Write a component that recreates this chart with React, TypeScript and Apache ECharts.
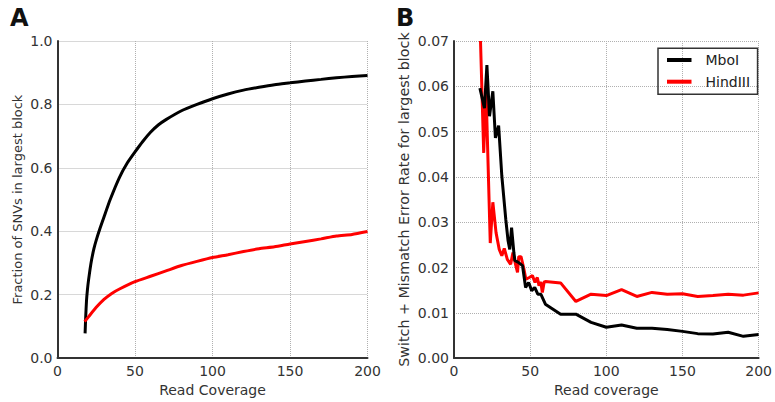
import React, { useEffect, useRef } from "react";
import * as echarts from "echarts";

// Panel A: fraction of SNVs in largest block
const coverageA_MboI = [17.8, 18.2, 18.7, 19.3, 20, 21, 22, 23.5, 25, 27.5, 30, 34, 40, 45, 50, 55, 60, 65, 70, 80, 90, 100, 110, 120, 130, 140, 150, 160, 170, 180, 190, 200];
const fractionMboI = [0.078, 0.13, 0.18, 0.215, 0.245, 0.28, 0.31, 0.345, 0.372, 0.41, 0.445, 0.5, 0.57, 0.615, 0.65, 0.683, 0.712, 0.735, 0.752, 0.78, 0.8, 0.818, 0.833, 0.845, 0.854, 0.862, 0.868, 0.874, 0.879, 0.884, 0.888, 0.891];
const coverageA_HindIII = [17.5, 20, 25, 30, 35, 40, 50, 60, 70, 80, 90, 100, 110, 120, 130, 140, 150, 160, 170, 180, 190, 200];
const fractionHindIII = [0.115, 0.13, 0.16, 0.185, 0.204, 0.218, 0.241, 0.258, 0.275, 0.292, 0.305, 0.317, 0.326, 0.336, 0.345, 0.351, 0.36, 0.368, 0.376, 0.385, 0.39, 0.399];

// Panel B: switch + mismatch error rate
const coverageB_MboI = [17, 20, 21.6, 23.3, 25.5, 27.2, 29.3, 31.4, 34, 35.5, 36.6, 37.8, 39.3, 40, 42, 45, 47, 49, 51, 53, 55, 57, 60, 65, 70, 80, 90, 100, 110, 120, 130, 140, 150, 160, 170, 180, 190, 200];
const errorMboI = [0.0596, 0.0552, 0.0647, 0.0534, 0.0589, 0.0486, 0.0513, 0.0402, 0.0306, 0.0259, 0.024, 0.0288, 0.0233, 0.0215, 0.0212, 0.0204, 0.0156, 0.0167, 0.0149, 0.0156, 0.0141, 0.0141, 0.0119, 0.0108, 0.0097, 0.0097, 0.0079, 0.0068, 0.0073, 0.0066, 0.0066, 0.0063, 0.0059, 0.0054, 0.0053, 0.0057, 0.0048, 0.0052];
const coverageB_HindIII = [17.4, 19.5, 21, 23.8, 25.5, 27.6, 29.7, 31.4, 33, 35, 37.2, 38.7, 40.4, 41.7, 42.5, 44, 45.7, 47.2, 49.4, 51.5, 53.2, 54.7, 55.8, 57, 58, 59.2, 60, 70, 80, 90, 100, 110, 120, 130, 140, 150, 160, 170, 180, 190, 200];
const errorHindIII = [0.07, 0.0453, 0.0596, 0.0254, 0.0344, 0.0277, 0.024, 0.0226, 0.0242, 0.0218, 0.0207, 0.0233, 0.0207, 0.0189, 0.0224, 0.0224, 0.02, 0.0174, 0.0178, 0.0182, 0.0167, 0.0178, 0.016, 0.0168, 0.0145, 0.0168, 0.0169, 0.0166, 0.0125, 0.0141, 0.0138, 0.0151, 0.0136, 0.0145, 0.0141, 0.0142, 0.0136, 0.0138, 0.0141, 0.0139, 0.0144];

const xTicks = [0, 50, 100, 150, 200];

const FONT = "DejaVu Sans";

function pairs(xs: number[], ys: number[]) {
  return xs.map((x, i) => [x, ys[i]]);
}

export default function App() {
  const ref = useRef<HTMLDivElement>(null);
  useEffect(() => {
    if (!ref.current) return;
    const chart = echarts.init(ref.current, undefined, { renderer: "svg" });
    const axisLine = { show: true, lineStyle: { color: "#333", width: 2 } };
    const splitLine = { show: true, lineStyle: { color: "#b0b0b0", type: "dotted" as const, width: 1 } };
    const labelStyle = { color: "#333", fontSize: 14, fontFamily: FONT };
    const xAxisBase = (gridIndex: number, name: string) => ({
      type: "value" as const,
      gridIndex,
      min: xTicks[0],
      max: xTicks[xTicks.length - 1],
      interval: 50,
      axisLine,
      axisTick: { show: false },
      splitLine,
      axisLabel: { ...labelStyle, margin: 6 },
      name,
      nameLocation: "middle" as const,
      nameGap: 24,
      nameTextStyle: { color: "#333", fontSize: 14, fontFamily: FONT },
    });
    chart.setOption({
      animation: false,
      backgroundColor: "#fff",
      grid: [
        { left: 57.5, top: 41, width: 310, height: 318.3 },
        { left: 454, top: 41, width: 310, height: 318.3 },
      ],
      xAxis: [xAxisBase(0, "Read Coverage"), xAxisBase(1, "Read coverage")],
      yAxis: [
        {
          type: "value",
          gridIndex: 0,
          min: 0,
          max: 1,
          interval: 0.2,
          axisLine,
          axisTick: { show: false },
          splitLine,
          axisLabel: { ...labelStyle, margin: 5, formatter: (v: number) => v.toFixed(1) },
          name: "Fraction of SNVs in largest block",
          nameLocation: "middle",
          nameGap: 34,
          nameTextStyle: { color: "#333", fontSize: 13, fontFamily: FONT },
        },
        {
          type: "value",
          gridIndex: 1,
          min: 0,
          max: 0.07,
          interval: 0.01,
          axisLine,
          axisTick: { show: false },
          splitLine,
          axisLabel: { ...labelStyle, margin: 5, formatter: (v: number) => v.toFixed(2) },
          name: "Switch + Mismatch Error Rate for largest block",
          nameLocation: "middle",
          nameGap: 43,
          nameTextStyle: { color: "#333", fontSize: 14.3, fontFamily: FONT },
        },
      ],
      legend: {
        data: ["MboI", "HindIII"],
        orient: "vertical",
        left: 658,
        top: 48.3,
        icon: "rect",
        padding: [4.7, 7.5, 5.6, 9],
        itemGap: 7.7,
        itemWidth: 24.5,
        itemHeight: 4,
        borderColor: "#333",
        borderWidth: 1.5,
        borderRadius: 0,
        textStyle: { color: "#222", fontSize: 14, fontFamily: FONT, padding: [0, 0, 0, 9] },
      },
      graphic: [
        { type: "text", left: 10, top: 6, style: { text: "A", fontSize: 24, fontWeight: "bold", fontFamily: FONT, fill: "#111" } },
        { type: "text", left: 396, top: 6, style: { text: "B", fontSize: 24, fontWeight: "bold", fontFamily: FONT, fill: "#111" } },
      ],
      series: [
        {
          name: "MboI A",
          type: "line",
          xAxisIndex: 0,
          yAxisIndex: 0,
          data: pairs(coverageA_MboI, fractionMboI),
          symbol: "none",
          smooth: 0.2,
          lineStyle: { color: "#000", width: 3 },
          itemStyle: { color: "#000" },
        },
        {
          name: "HindIII A",
          type: "line",
          xAxisIndex: 0,
          yAxisIndex: 0,
          data: pairs(coverageA_HindIII, fractionHindIII),
          symbol: "none",
          smooth: 0.2,
          lineStyle: { color: "#ff0000", width: 3 },
          itemStyle: { color: "#ff0000" },
        },
        {
          name: "HindIII",
          type: "line",
          xAxisIndex: 1,
          yAxisIndex: 1,
          data: pairs(coverageB_HindIII, errorHindIII),
          symbol: "none",
          lineStyle: { color: "#ff0000", width: 3 },
          itemStyle: { color: "#ff0000" },
        },
        {
          name: "MboI",
          type: "line",
          xAxisIndex: 1,
          yAxisIndex: 1,
          data: pairs(coverageB_MboI, errorMboI),
          symbol: "none",
          lineStyle: { color: "#000", width: 3 },
          itemStyle: { color: "#000" },
        },
      ],
    });
    return () => chart.dispose();
  }, []);
  return (
    <div
      ref={ref}
      style={{ position: "fixed", left: 0, top: 0, width: 775, height: 402, background: "#fff" }}
    />
  );
}
